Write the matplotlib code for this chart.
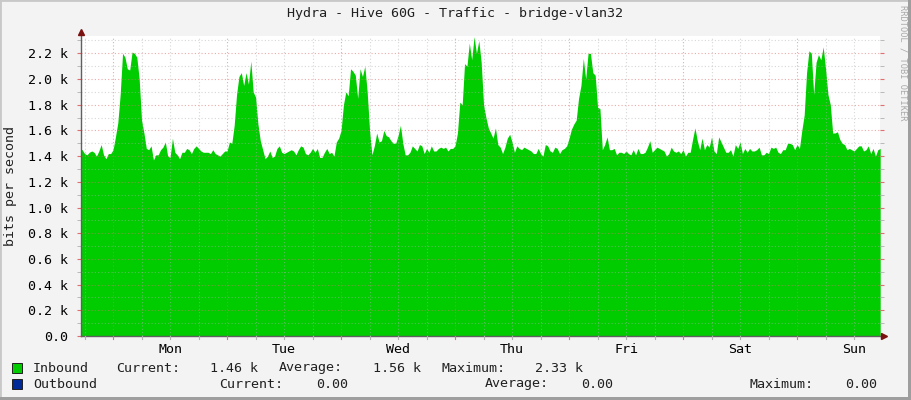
import numpy as np
import matplotlib
matplotlib.use("Agg")
import matplotlib.pyplot as plt
from matplotlib.patches import Rectangle

# Datos (k bits/s), una muestra cada media hora,
# desde 7 h antes del lunes 00:00
inicio_horas = -7.0
paso_horas = 0.5

inbound_1 = [1.455, 1.45, 1.42, 1.41, 1.43, 1.44, 1.43, 1.40, 1.44, 1.49, 1.41, 1.38, 1.42, 1.42,
             1.45, 1.55, 1.66, 1.88, 2.20, 2.17, 2.08, 2.07, 2.21, 2.20, 2.17, 2.00, 1.68, 1.58,
             1.46, 1.45, 1.48, 1.37, 1.41, 1.41, 1.45, 1.47, 1.51, 1.40, 1.39, 1.54, 1.43, 1.41,
             1.38, 1.43, 1.43, 1.46, 1.45, 1.42, 1.46, 1.48, 1.46, 1.44, 1.43, 1.43, 1.43, 1.42,
             1.45, 1.42, 1.41, 1.40, 1.42, 1.44, 1.44, 1.51, 1.50, 1.64, 1.88, 2.02, 2.05, 1.95,
             2.05, 1.96, 2.14, 1.90, 1.86, 1.65, 1.52, 1.45, 1.38, 1.40, 1.44, 1.39, 1.40, 1.46,
             1.48]
inbound_2 = [1.43, 1.42, 1.43, 1.44, 1.45, 1.44, 1.41, 1.45, 1.48, 1.47, 1.42, 1.41, 1.43, 1.46,
             1.43, 1.46, 1.39, 1.39, 1.43, 1.46, 1.42, 1.43, 1.40, 1.51, 1.54, 1.60, 1.80, 1.90,
             1.87, 2.08, 2.06, 2.03, 1.85, 2.08, 2.02, 2.10, 1.90, 1.60, 1.41, 1.48, 1.58, 1.51,
             1.52, 1.60, 1.56, 1.55, 1.52, 1.50, 1.50, 1.56, 1.64, 1.50, 1.41, 1.41, 1.43, 1.48,
             1.46, 1.44, 1.49, 1.48, 1.42, 1.46, 1.43, 1.48, 1.44, 1.44, 1.46, 1.47, 1.46, 1.47,
             1.44, 1.46, 1.46, 1.48, 1.58, 1.82, 1.80, 2.12, 2.10, 2.28, 2.15, 2.33, 2.20, 2.30]
inbound_3 = [2.13, 1.80, 1.70, 1.62, 1.58, 1.54, 1.62, 1.49, 1.47, 1.42, 1.47, 1.54, 1.57, 1.51,
             1.43, 1.48, 1.46, 1.45, 1.47, 1.46, 1.45, 1.44, 1.42, 1.42, 1.46, 1.42, 1.40, 1.49,
             1.48, 1.44, 1.43, 1.47, 1.46, 1.42, 1.45, 1.46, 1.48, 1.54, 1.61, 1.65, 1.68, 1.85,
             1.95, 2.16, 2.00, 2.20, 2.20, 2.05, 2.03, 1.78, 1.77, 1.45, 1.49, 1.55, 1.45, 1.45,
             1.46, 1.41, 1.43, 1.43, 1.42, 1.44, 1.42, 1.41, 1.45, 1.41, 1.46, 1.42, 1.42, 1.43,
             1.47, 1.52, 1.43, 1.45, 1.47, 1.46, 1.45, 1.44, 1.40, 1.42, 1.47, 1.44, 1.43, 1.44]
inbound_4 = [1.42, 1.45, 1.40, 1.43, 1.43, 1.53, 1.62, 1.52, 1.45, 1.54, 1.45, 1.49, 1.47, 1.55,
             1.44, 1.42, 1.55, 1.51, 1.47, 1.43, 1.43, 1.45, 1.40, 1.49, 1.46, 1.51, 1.42, 1.46,
             1.43, 1.46, 1.44, 1.44, 1.45, 1.47, 1.41, 1.41, 1.43, 1.42, 1.47, 1.46, 1.47, 1.43,
             1.42, 1.45, 1.45, 1.50, 1.50, 1.49, 1.45, 1.49, 1.46, 1.60, 1.72, 2.05, 2.22, 2.20,
             1.88, 2.13, 2.19, 2.15, 2.25, 2.08, 1.88, 1.80, 1.58, 1.58, 1.59, 1.53, 1.50, 1.49,
             1.45, 1.46, 1.45, 1.44, 1.46, 1.48, 1.48, 1.44, 1.45, 1.48, 1.42, 1.46, 1.40, 1.45,
             1.46]

dias = ['Mon', 'Tue', 'Wed', 'Thu', 'Fri', 'Sat', 'Sun']
yticks = [0.0, 0.2, 0.4, 0.6, 0.8, 1.0, 1.2, 1.4, 1.6, 1.8, 2.0, 2.2]
ylabels = ['0.0'] + ['%.1f k' % v for v in yticks[1:]]

leyenda_in = ['Current:', '1.46 k', 'Average:', '1.56 k', 'Maximum:', '2.33 k']
leyenda_out = ['Current:', '0.00', 'Average:', '0.00', 'Maximum:', '0.00']

inbound = np.array(inbound_1 + inbound_2 + inbound_3 + inbound_4)
horas = inicio_horas + paso_horas * np.arange(len(inbound))

W, H = 911, 400
fondo = '#f3f3f3'
verde = '#00cc00'
azul = '#002a97'
fuente = 'DejaVu Sans Mono'
plt.rcParams['font.family'] = fuente


def px(x, y):
    # pixeles de la imagen -> coordenadas de figura
    return x / W, 1 - y / H


fig = plt.figure(figsize=(W / 100, H / 100), dpi=100, facecolor=fondo)

# Marco de la imagen
fig.patches.append(Rectangle((0, 0), 1, 1, transform=fig.transFigure, fill=False,
                             edgecolor='#c8c8c8', linewidth=2))
fig.patches.append(Rectangle(px(908, 400), 3 / W, 1, transform=fig.transFigure,
                             facecolor='#9e9e9e', edgecolor='none'))
fig.patches.append(Rectangle(px(0, 400), 1, 3 / H, transform=fig.transFigure,
                             facecolor='#9e9e9e', edgecolor='none'))

x0, x1, ytop, ybot = 81, 880, 36, 336
ax = fig.add_axes([x0 / W, (H - ybot) / H, (x1 - x0) / W, (ybot - ytop) / H])
ax.set_facecolor('white')

xmin = inicio_horas + 0.25
xmax = xmin + (x1 - x0) / 4.75
ax.set_xlim(xmin, xmax)
ax.set_ylim(0, 2.335)

ax.fill_between(horas, 0, inbound, color=verde, linewidth=0, zorder=1)

# Rejilla: gris cada 6 h / 0.1 k, roja cada 24 h / 0.2 k
for h in np.arange(-6, 162, 6):
    mayor = h % 24 == 0
    ax.axvline(h, color='#e07070' if mayor else '#b0b0b0', alpha=0.6 if mayor else 0.5,
               linewidth=0.8, linestyle=(0, (1, 2)), zorder=2)
    ax.plot([h, h], [0, -0.02], color='#e07070' if mayor else '#b0b0b0', linewidth=0.8,
            clip_on=False, zorder=3)
for i in range(1, 24):
    v = i * 0.1
    mayor = i % 2 == 0
    ax.axhline(v, color='#e07070' if mayor else '#b0b0b0', alpha=0.6 if mayor else 0.5,
               linewidth=0.8, linestyle=(0, (1, 2)), zorder=2)

ax.set_yticks(yticks)
ax.set_yticklabels(ylabels)
ax.set_yticks(np.arange(0.1, 2.35, 0.2), minor=True)
ax.tick_params(axis='y', which='major', length=3, color='#e07070', labelsize=9.6,
               pad=6, right=True, direction='out')
ax.tick_params(axis='y', which='minor', length=3, color='#b0b0b0', right=True)

ax.set_xticks([12 + 24 * i for i in range(len(dias))])
ax.set_xticklabels(dias)
ax.tick_params(axis='x', length=0, labelsize=9.6, pad=5)

for lado in ['top', 'right']:
    ax.spines[lado].set_visible(False)
for lado in ['left', 'bottom']:
    ax.spines[lado].set_color('#606060')
    ax.spines[lado].set_linewidth(1.0)

# Flechas de los ejes
ax.plot([xmin], [2.335 + 0.03], marker='^', color='#7a1010', markersize=5,
        clip_on=False, zorder=5)
ax.plot([xmax + 0.8], [0], marker='>', color='#7a1010', markersize=5,
        clip_on=False, zorder=5)

fig.text(*px(455, 14), 'Hydra - Hive 60G - Traffic - bridge-vlan32', ha='center',
         va='center', fontsize=9.6, color='#202020')
fig.text(*px(11, 186), 'bits per second', rotation=90, ha='center', va='center',
         fontsize=9.6, color='#202020')
fig.text(*px(903, 5), 'RRDTOOL / TOBI OETIKER', rotation=270, ha='center', va='top',
         fontsize=6.2, color='#a8a8a8')

# Leyenda
fig.patches.append(Rectangle(px(12, 373), 10 / W, 10 / H, transform=fig.transFigure,
                             facecolor=verde, edgecolor='#202020', linewidth=0.7))
fig.patches.append(Rectangle(px(12, 389), 10 / W, 10 / H, transform=fig.transFigure,
                             facecolor=azul, edgecolor='#202020', linewidth=0.7))
fig.text(*px(33, 368), 'Inbound', va='center', fontsize=9.6, color='#202020')
fig.text(*px(33, 384), 'Outbound', va='center', fontsize=9.6, color='#202020')

pos_in = [(116, 'left'), (258, 'right'), (279, 'left'), (421, 'right'), (441, 'left'),
          (583, 'right')]
pos_out = [(219, 'left'), (348, 'right'), (485, 'left'), (613, 'right'), (750, 'left'),
           (877, 'right')]
for (x, ha), t in zip(pos_in, leyenda_in):
    fig.text(*px(x, 368), t, ha=ha, va='center', fontsize=9.6, color='#202020')
for (x, ha), t in zip(pos_out, leyenda_out):
    fig.text(*px(x, 384), t, ha=ha, va='center', fontsize=9.6, color='#202020')

fig.savefig('out.png', dpi=100, facecolor=fondo)
